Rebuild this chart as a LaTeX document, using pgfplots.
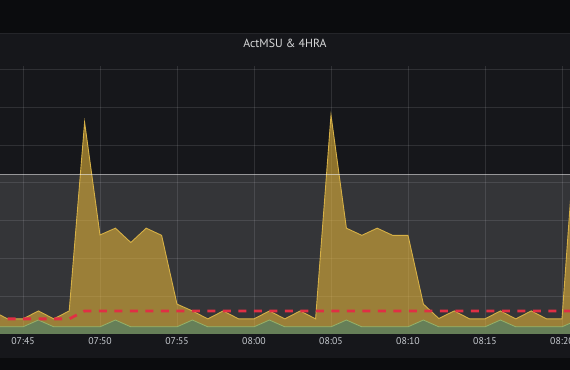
\documentclass[border=0pt]{standalone}
\usepackage{pgfplots}
\pgfplotsset{compat=1.18}
\usepackage{pgfplotstable}
\usepackage{fontspec}
\setmainfont{PT Sans}
\definecolor{outerbg}{RGB}{11,12,14}
\definecolor{panelbg}{RGB}{22,23,27}
\definecolor{panelborder}{RGB}{36,37,41}
\definecolor{titlecol}{RGB}{216,217,218}
\definecolor{tickcol}{RGB}{199,203,208}
\definecolor{yel}{RGB}{234,184,57}
\definecolor{yelline}{RGB}{214,176,70}
\definecolor{grnfill}{RGB}{100,128,90}
\definecolor{grnline}{RGB}{150,178,105}
\definecolor{redd}{RGB}{224,47,68}
\pgfplotstableread{
m yel grn red
-2 0.61 0.19 0.40
-1 0.40 0.19 0.40
0 0.40 0.19 0.40
1 0.61 0.37 0.40
2 0.40 0.19 0.40
3 0.61 0.19 0.40
4 5.60 0.19 0.61
5 2.62 0.19 0.61
6 2.80 0.37 0.61
7 2.42 0.19 0.61
8 2.80 0.19 0.61
9 2.61 0.19 0.61
10 0.79 0.19 0.61
11 0.61 0.37 0.61
12 0.40 0.19 0.61
13 0.61 0.19 0.61
14 0.40 0.19 0.61
15 0.40 0.19 0.61
16 0.61 0.37 0.61
17 0.40 0.19 0.61
18 0.61 0.19 0.61
19 0.40 0.19 0.61
20 5.79 0.19 0.61
21 2.80 0.37 0.61
22 2.61 0.19 0.61
23 2.80 0.19 0.61
24 2.61 0.19 0.61
25 2.61 0.19 0.61
26 0.79 0.37 0.61
27 0.41 0.19 0.61
28 0.61 0.19 0.61
29 0.40 0.19 0.61
30 0.40 0.19 0.61
31 0.61 0.37 0.61
32 0.40 0.19 0.61
33 0.61 0.19 0.61
34 0.40 0.19 0.61
35 0.40 0.19 0.61
36 6.10 0.37 0.61
}\datatab
\begin{document}
\begin{tikzpicture}
\clip (0,0) rectangle (570bp,370bp);
\fill[outerbg] (0,0) rectangle (570bp,370bp);
\fill[panelbg] (0,12bp) rectangle (570bp,337bp);
\draw[panelborder, line width=0.8bp] (0,337bp) -- (570bp,337bp);
\node[font=\fontsize{11.8bp}{14bp}\selectfont, text=titlecol, anchor=base, inner sep=0pt] at (285bp,322bp) {ActMSU \& 4HRA};
\begin{axis}[
  at={(0,36bp)}, anchor=south west,
  scale only axis, width=570bp, height=268bp,
  xmin=-1.494, xmax=35.52, ymin=0, ymax=7.09,
  axis line style={draw=none},
  major tick length=0pt,
  xtick={0,5,10,15,20,25,30,35},
  xticklabels={07:45,07:50,07:55,08:00,08:05,08:10,08:15,08:20},
  xticklabel style={font=\fontsize{9.8bp}{11bp}\selectfont, text=tickcol, anchor=base, yshift=-10bp},
  ytick={1,2,3,4,5,6,7},
  yticklabels={},
  grid=major,
  major grid style={white, opacity=0.11, line width=0.8bp},
  clip=true,
]
\addplot[draw=none, fill=white, fill opacity=0.13] coordinates {(-2,0) (37,0) (37,4.21) (-2,4.21)} \closedcycle;
\addplot[draw=none, fill=yel, fill opacity=0.57] table[x=m, y=yel] {\datatab} \closedcycle;
\addplot[yelline, line width=0.9bp] table[x=m, y=yel] {\datatab};
\addplot[draw=none, fill=grnfill, fill opacity=0.95] table[x=m, y=grn] {\datatab} \closedcycle;
\addplot[grnline, line width=0.8bp] table[x=m, y=grn] {\datatab};
\addplot[white, opacity=0.55, line width=1.2bp] coordinates {(-2,4.21) (37,4.21)};
\addplot[redd, line width=2.8bp, dash pattern=on 8bp off 7.5bp] table[x=m, y=red] {\datatab};
\end{axis}
\end{tikzpicture}
\end{document}
